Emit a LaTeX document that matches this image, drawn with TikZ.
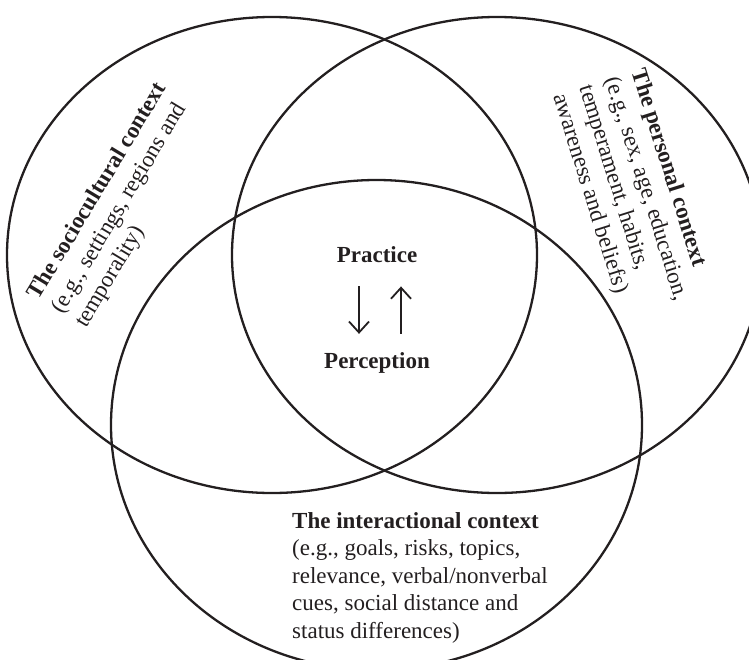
\documentclass[tikz,border=0pt]{standalone}
\usepackage{fontspec}
\setmainfont{Liberation Serif}
\usetikzlibrary{arrows.meta}
\definecolor{ink}{HTML}{231F20}
\begin{document}
\begin{tikzpicture}[x=1pt,y=1pt,
  ring/.style={draw=ink, line width=2.3pt},
  ctxtext/.style={inner sep=0pt, text=ink, font=\fontsize{23}{27.5}\selectfont, align=left},
  keyword/.style={inner sep=0pt, text=ink, font=\fontsize{23}{27.5}\selectfont\bfseries},
  flow/.style={draw=ink, line width=1.8pt, -{Straight Barb[length=11pt,width=20pt]}}]
\useasboundingbox (0,0) rectangle (749,-659);
\clip (0,0) rectangle (749,-659);

% the three overlapping contexts
\draw[ring] (272,-255) ellipse [x radius=265, y radius=238];
\draw[ring] (497,-255) ellipse [x radius=265, y radius=238];
\draw[ring] (376.5,-425) ellipse [x radius=265.5, y radius=245];

% context labels (anchored at the baseline of their last line)
\node[ctxtext, anchor=base west, rotate=59] (socio) at (86,-329)
  {\textbf{The sociocultural context}\\(e.g., settings, regions and\\temporality)};
\node[ctxtext, anchor=base west, rotate=-72.5] (personal) at (553,-96)
  {\textbf{The personal context}\\(e.g., sex, age, education,\\temperament, habits,\\awareness and beliefs)};
\node[ctxtext, anchor=base west] (inter) at (292,-638)
  {\textbf{The interactional context}\\(e.g., goals, risks, topics,\\relevance, verbal/nonverbal\\cues, social distance and\\status differences)};

% centre: practice and perception
\node[keyword, anchor=base] (practice) at (377,-262) {Practice};
\node[keyword, anchor=base] (perception) at (377,-368) {Perception};

\draw[flow, shorten <=24pt, shorten >=18pt]
  ([xshift=-18pt]practice.south) -- ([xshift=-18pt]perception.north);
\draw[flow, shorten <=18pt, shorten >=24pt]
  ([xshift=24pt]perception.north) -- ([xshift=24pt]practice.south);
\end{tikzpicture}
\end{document}
